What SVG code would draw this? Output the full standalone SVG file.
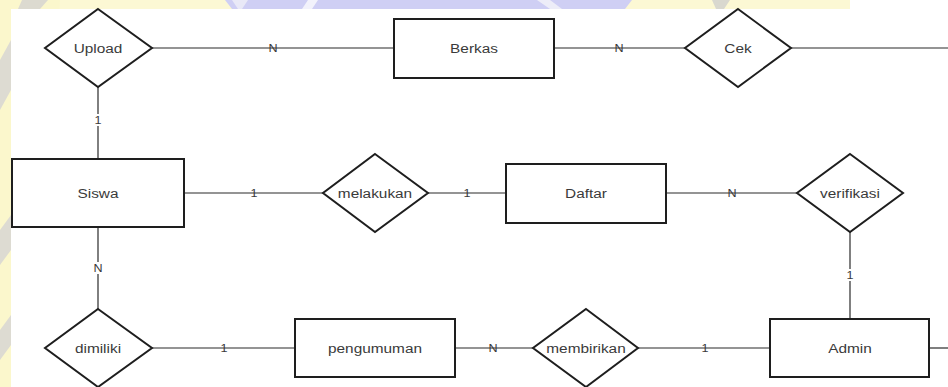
<svg xmlns="http://www.w3.org/2000/svg" width="948" height="387" viewBox="0 0 948 387">
<style>
.sh{fill:#fff;stroke:#1e1e1e;stroke-width:2}
.ln{stroke:#2a2a2a;stroke-width:1.2;fill:none}
.t{font-family:"Liberation Sans",Arial,sans-serif;font-size:12.5px;fill:#3a3a3a;text-anchor:middle}
.c{font-family:"Liberation Sans",Arial,sans-serif;font-size:10.5px;fill:#3a3a3a;text-anchor:middle}
</style>
<g id="background">
<rect x="0" y="0" width="948" height="387" fill="#fcf8d4"/>
<polygon points="0,0 60,0 40,387 0,387" fill="#fbf7cc"/>
<polygon points="22,0 48,0 40,9 18,9" fill="#dcdad0"/>
<polygon points="0,60 11,40 11,90 0,110" fill="#dddbd2"/>
<polygon points="0,230 11,215 11,250 0,265" fill="#dddbd2"/>
<polygon points="0,330 11,315 11,345 0,360" fill="#dddbd2"/>
<polygon points="225,0 632,0 625,9 232,9" fill="#cfcff4"/>
<polygon points="232,0 248,0 242,9 238,9" fill="#e9e9f7"/>
<polygon points="308,0 318,0 312,9 302,9" fill="#f2f2fb"/>
<polygon points="537,0 550,0 562,9 550,9" fill="#ededf8"/>
<polygon points="712,0 730,0 724,9 716,9" fill="#d9d8cf"/>
<rect x="850" y="0" width="98" height="9" fill="#ffffff"/>
<rect x="11" y="9" width="937" height="378" fill="#ffffff"/>
</g>
<g id="connectors">
<line class="ln" x1="152" y1="48" x2="394" y2="48"/>
<line class="ln" x1="554" y1="48" x2="685" y2="48"/>
<line class="ln" x1="791" y1="48" x2="948" y2="48"/>
<line class="ln" x1="98" y1="87" x2="98" y2="159"/>
<line class="ln" x1="184" y1="193" x2="323" y2="193"/>
<line class="ln" x1="428" y1="193" x2="506" y2="193"/>
<line class="ln" x1="666" y1="193" x2="797" y2="193"/>
<line class="ln" x1="850" y1="232" x2="850" y2="319"/>
<line class="ln" x1="929" y1="348" x2="948" y2="348"/>
<line class="ln" x1="98" y1="227" x2="98" y2="309"/>
<line class="ln" x1="152" y1="348" x2="295" y2="348"/>
<line class="ln" x1="455" y1="348" x2="533" y2="348"/>
<line class="ln" x1="638" y1="348" x2="770" y2="348"/>
<rect x="93" y="114" width="10" height="12" fill="#fff"/>
<rect x="93" y="262" width="10" height="12" fill="#fff"/>
<rect x="845" y="269" width="10" height="12" fill="#fff"/>
<text class="c" transform="translate(273 51.8) scale(1.2 1)">N</text>
<text class="c" transform="translate(619 51.8) scale(1.2 1)">N</text>
<text class="c" transform="translate(98 123.8) scale(1.2 1)">1</text>
<text class="c" transform="translate(254 196.8) scale(1.2 1)">1</text>
<text class="c" transform="translate(467 196.8) scale(1.2 1)">1</text>
<text class="c" transform="translate(732 196.8) scale(1.2 1)">N</text>
<text class="c" transform="translate(850 278.8) scale(1.2 1)">1</text>
<text class="c" transform="translate(98 271.8) scale(1.2 1)">N</text>
<text class="c" transform="translate(224 351.8) scale(1.2 1)">1</text>
<text class="c" transform="translate(493 351.8) scale(1.2 1)">N</text>
<text class="c" transform="translate(705 351.8) scale(1.2 1)">1</text>
</g>
<g id="upload">
<polygon class="sh" points="98,9 152,48 98,87 45,48"/>
<text class="t" transform="translate(98 52.5) scale(1.23 1)">Upload</text>
</g>
<g id="berkas">
<rect class="sh" x="394" y="19" width="160" height="59"/>
<text class="t" transform="translate(474 53) scale(1.23 1)">Berkas</text>
</g>
<g id="cek">
<polygon class="sh" points="738,9 791,48 738,87 685,48"/>
<text class="t" transform="translate(738 52.5) scale(1.23 1)">Cek</text>
</g>
<g id="siswa">
<rect class="sh" x="12" y="159" width="172" height="68"/>
<text class="t" transform="translate(98 197.5) scale(1.23 1)">Siswa</text>
</g>
<g id="melakukan">
<polygon class="sh" points="375,154 428,193 375,232 323,193"/>
<text class="t" transform="translate(375 197.5) scale(1.23 1)">melakukan</text>
</g>
<g id="daftar">
<rect class="sh" x="506" y="164" width="160" height="59"/>
<text class="t" transform="translate(586 197.5) scale(1.23 1)">Daftar</text>
</g>
<g id="verifikasi">
<polygon class="sh" points="850,154 903,193 850,232 797,193"/>
<text class="t" transform="translate(850 197.5) scale(1.23 1)">verifikasi</text>
</g>
<g id="dimiliki">
<polygon class="sh" points="98,309 152,348 98,387 45,348"/>
<text class="t" transform="translate(98 352.5) scale(1.23 1)">dimiliki</text>
</g>
<g id="pengumuman">
<rect class="sh" x="295" y="319" width="160" height="58"/>
<text class="t" transform="translate(375 352.5) scale(1.23 1)">pengumuman</text>
</g>
<g id="membirikan">
<polygon class="sh" points="586,309 638,348 586,387 533,348"/>
<text class="t" transform="translate(586 352.5) scale(1.23 1)">membirikan</text>
</g>
<g id="admin">
<rect class="sh" x="770" y="319" width="159" height="58"/>
<text class="t" transform="translate(850 352.5) scale(1.23 1)">Admin</text>
</g>
</svg>
